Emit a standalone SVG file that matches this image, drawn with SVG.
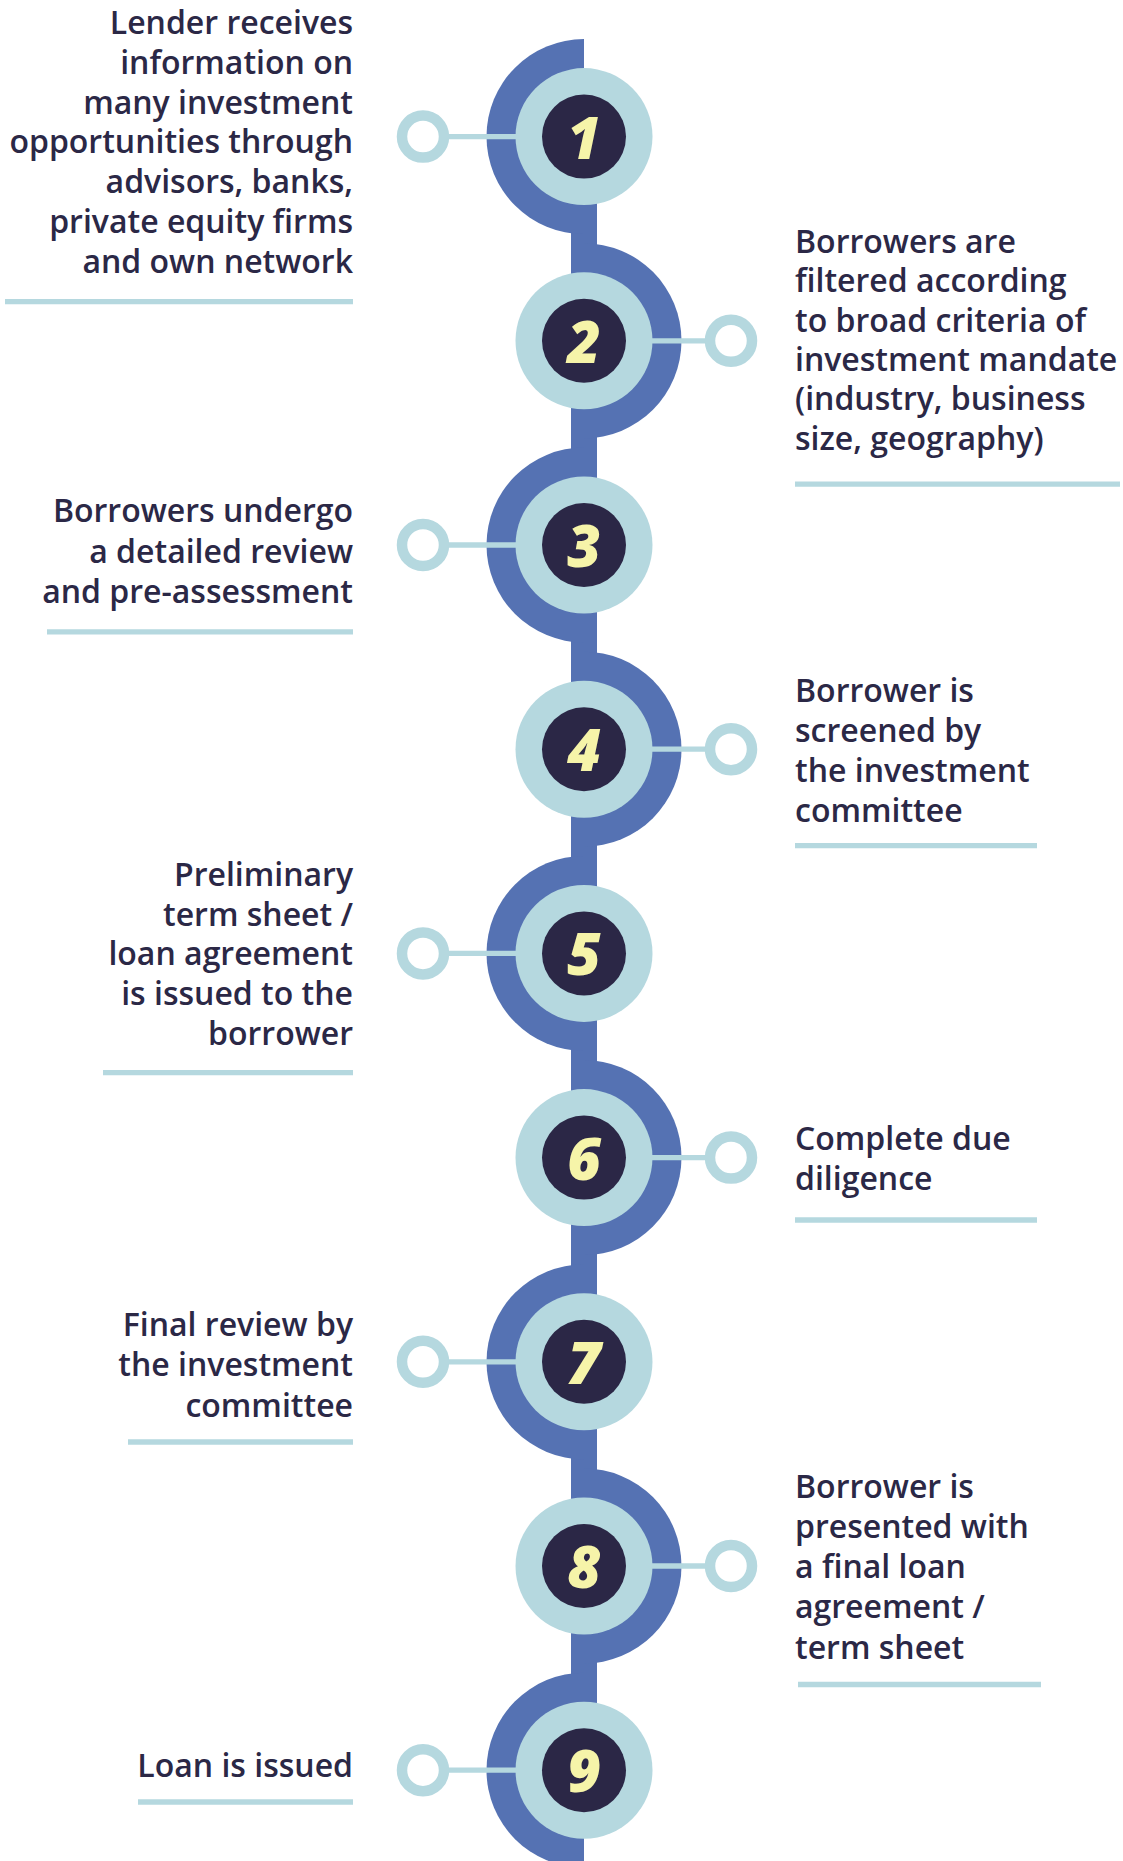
<svg xmlns="http://www.w3.org/2000/svg" width="1123" height="1861" viewBox="0 0 1123 1861">
<style>
.blue{fill:#5572B3}
.light{fill:#B5D8DF}
.dark{fill:#2B2746}
.num{fill:#F6F4A9;font-family:"Open Sans",sans-serif;font-weight:800;font-style:italic;font-size:58px;text-anchor:middle}
.lbl{fill:#2B2846;font-family:"Open Sans",sans-serif;font-weight:600;font-size:32px}
.l{text-anchor:end}
.r{text-anchor:start}
.ul{stroke:#B5D8DF;stroke-width:5.3;fill:none}
.cl{stroke:#B5D8DF;stroke-width:5.3;fill:none}
.ring{stroke:#B5D8DF;stroke-width:10.5;fill:#FFFFFF}
</style>
<rect width="1123" height="1861" fill="#FFFFFF"/>
<g id="spine">
<rect class="blue" x="571" y="136.6" width="26" height="1633.6"/>
<path class="blue" d="M584 39.1 A97.5 97.5 0 0 0 584 234.1 Z"/>
<path class="blue" d="M584 243.3 A97.5 97.5 0 0 1 584 438.3 Z"/>
<path class="blue" d="M584 447.5 A97.5 97.5 0 0 0 584 642.5 Z"/>
<path class="blue" d="M584 651.7 A97.5 97.5 0 0 1 584 846.7 Z"/>
<path class="blue" d="M584 855.9 A97.5 97.5 0 0 0 584 1050.9 Z"/>
<path class="blue" d="M584 1060.1 A97.5 97.5 0 0 1 584 1255.1 Z"/>
<path class="blue" d="M584 1264.3 A97.5 97.5 0 0 0 584 1459.3 Z"/>
<path class="blue" d="M584 1468.5 A97.5 97.5 0 0 1 584 1663.5 Z"/>
<path class="blue" d="M584 1672.7 A97.5 97.5 0 0 0 584 1867.7 Z"/>
</g>
<g id="connectors">
<line class="cl" x1="449" y1="136.6" x2="584" y2="136.6"/>
<line class="cl" x1="584" y1="340.8" x2="705" y2="340.8"/>
<line class="cl" x1="449" y1="545.0" x2="584" y2="545.0"/>
<line class="cl" x1="584" y1="749.2" x2="705" y2="749.2"/>
<line class="cl" x1="449" y1="953.4" x2="584" y2="953.4"/>
<line class="cl" x1="584" y1="1157.6" x2="705" y2="1157.6"/>
<line class="cl" x1="449" y1="1361.8" x2="584" y2="1361.8"/>
<line class="cl" x1="584" y1="1566.0" x2="705" y2="1566.0"/>
<line class="cl" x1="449" y1="1770.2" x2="584" y2="1770.2"/>
<circle class="ring" cx="423" cy="136.6" r="21"/>
<circle class="ring" cx="731" cy="340.8" r="21"/>
<circle class="ring" cx="423" cy="545.0" r="21"/>
<circle class="ring" cx="731" cy="749.2" r="21"/>
<circle class="ring" cx="423" cy="953.4" r="21"/>
<circle class="ring" cx="731" cy="1157.6" r="21"/>
<circle class="ring" cx="423" cy="1361.8" r="21"/>
<circle class="ring" cx="731" cy="1566.0" r="21"/>
<circle class="ring" cx="423" cy="1770.2" r="21"/>
</g>
<g id="node1">
<circle class="light" cx="584" cy="136.6" r="68.5"/>
<circle class="dark" cx="584" cy="136.6" r="42"/>
<text class="num" x="584" y="158.6">1</text>
<text class="lbl l" x="353" y="34.3"><tspan x="353">Lender receives</tspan><tspan x="353" dy="39.7">information on</tspan><tspan x="353" dy="39.7">many investment</tspan><tspan x="353" dy="39.7">opportunities through</tspan><tspan x="353" dy="39.7">advisors, banks,</tspan><tspan x="353" dy="39.7">private equity firms</tspan><tspan x="353" dy="39.7">and own network</tspan></text>
<line class="ul" x1="5" y1="301.7" x2="353" y2="301.7"/>
</g>
<g id="node2">
<circle class="light" cx="584" cy="340.8" r="68.5"/>
<circle class="dark" cx="584" cy="340.8" r="42"/>
<text class="num" x="584" y="362.8">2</text>
<text class="lbl r" x="795" y="252.7"><tspan x="795">Borrowers are</tspan><tspan x="795" dy="39.4">filtered according</tspan><tspan x="795" dy="39.4">to broad criteria of</tspan><tspan x="795" dy="39.4">investment mandate</tspan><tspan x="795" dy="39.4">(industry, business</tspan><tspan x="795" dy="39.4">size, geography)</tspan></text>
<line class="ul" x1="795" y1="484.2" x2="1120" y2="484.2"/>
</g>
<g id="node3">
<circle class="light" cx="584" cy="545.0" r="68.5"/>
<circle class="dark" cx="584" cy="545.0" r="42"/>
<text class="num" x="584" y="567.0">3</text>
<text class="lbl l" x="353" y="522.3"><tspan x="353">Borrowers undergo</tspan><tspan x="353" dy="40.2">a detailed review</tspan><tspan x="353" dy="40.2">and pre-assessment</tspan></text>
<line class="ul" x1="47" y1="631.8" x2="353" y2="631.8"/>
</g>
<g id="node4">
<circle class="light" cx="584" cy="749.2" r="68.5"/>
<circle class="dark" cx="584" cy="749.2" r="42"/>
<text class="num" x="584" y="771.2">4</text>
<text class="lbl r" x="795" y="702.3"><tspan x="795">Borrower is</tspan><tspan x="795" dy="40">screened by</tspan><tspan x="795" dy="40">the investment</tspan><tspan x="795" dy="40">committee</tspan></text>
<line class="ul" x1="795" y1="845.7" x2="1037" y2="845.7"/>
</g>
<g id="node5">
<circle class="light" cx="584" cy="953.4" r="68.5"/>
<circle class="dark" cx="584" cy="953.4" r="42"/>
<text class="num" x="584" y="975.4">5</text>
<text class="lbl l" x="353" y="885.7"><tspan x="353">Preliminary</tspan><tspan x="353" dy="39.8">term sheet /</tspan><tspan x="353" dy="39.8">loan agreement</tspan><tspan x="353" dy="39.8">is issued to the</tspan><tspan x="353" dy="39.8">borrower</tspan></text>
<line class="ul" x1="103" y1="1072.7" x2="353" y2="1072.7"/>
</g>
<g id="node6">
<circle class="light" cx="584" cy="1157.6" r="68.5"/>
<circle class="dark" cx="584" cy="1157.6" r="42"/>
<text class="num" x="584" y="1179.6">6</text>
<text class="lbl r" x="795" y="1150"><tspan x="795">Complete due</tspan><tspan x="795" dy="39.5">diligence</tspan></text>
<line class="ul" x1="795" y1="1220" x2="1037" y2="1220"/>
</g>
<g id="node7">
<circle class="light" cx="584" cy="1361.8" r="68.5"/>
<circle class="dark" cx="584" cy="1361.8" r="42"/>
<text class="num" x="584" y="1383.8">7</text>
<text class="lbl l" x="353" y="1335.7"><tspan x="353">Final review by</tspan><tspan x="353" dy="40.5">the investment</tspan><tspan x="353" dy="40.5">committee</tspan></text>
<line class="ul" x1="128" y1="1442" x2="353" y2="1442"/>
</g>
<g id="node8">
<circle class="light" cx="584" cy="1566.0" r="68.5"/>
<circle class="dark" cx="584" cy="1566.0" r="42"/>
<text class="num" x="584" y="1588.0">8</text>
<text class="lbl r" x="795" y="1497.7"><tspan x="795">Borrower is</tspan><tspan x="795" dy="40.2">presented with</tspan><tspan x="795" dy="40.2">a final loan</tspan><tspan x="795" dy="40.2">agreement /</tspan><tspan x="795" dy="40.2">term sheet</tspan></text>
<line class="ul" x1="798" y1="1684.5" x2="1041" y2="1684.5"/>
</g>
<g id="node9">
<circle class="light" cx="584" cy="1770.2" r="68.5"/>
<circle class="dark" cx="584" cy="1770.2" r="42"/>
<text class="num" x="584" y="1792.2">9</text>
<text class="lbl l" x="353" y="1776.5">Loan is issued</text>
<line class="ul" x1="138" y1="1802" x2="353" y2="1802"/>
</g>
</svg>
